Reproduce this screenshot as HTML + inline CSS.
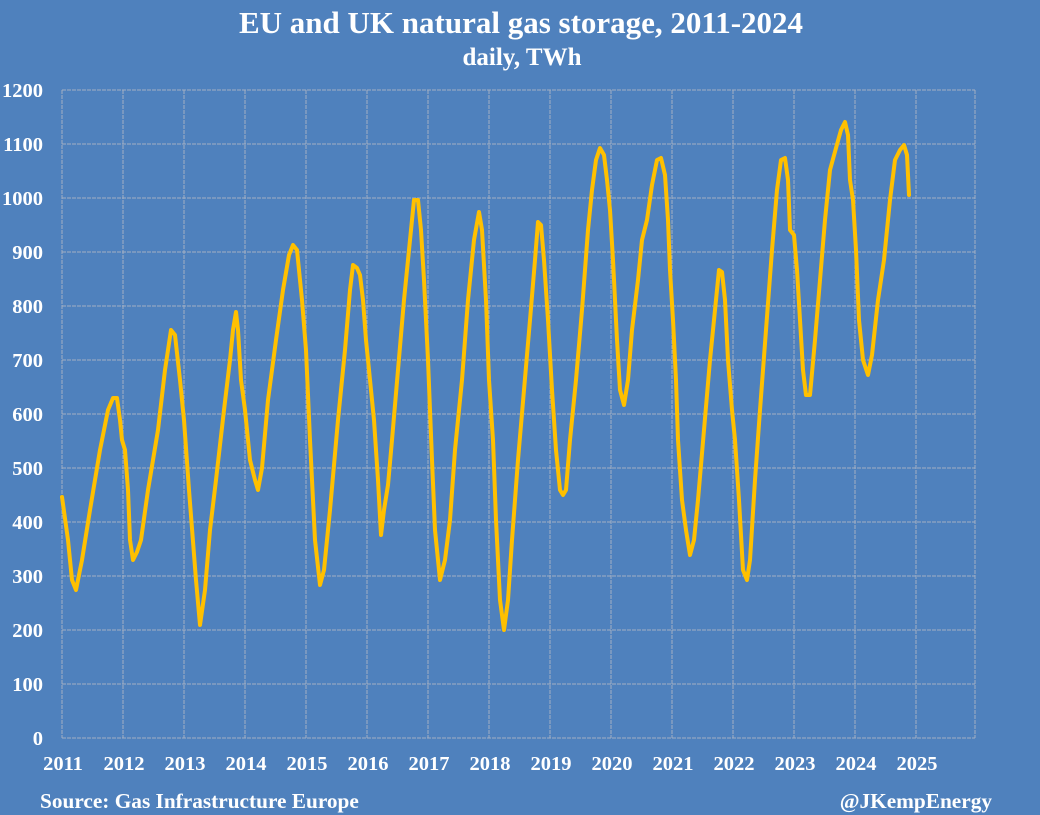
<!DOCTYPE html>
<html><head><meta charset="utf-8"><style>
html,body{margin:0;padding:0;background:#4f81bd;}
svg{display:block;font-family:"Liberation Serif",serif;font-weight:bold;fill:#fff;}
</style></head><body>
<svg width="1040" height="815" xmlns="http://www.w3.org/2000/svg">
<rect width="1040" height="815" fill="#4f81bd"/>
<text x="521" y="33" text-anchor="middle" font-size="31">EU and UK natural gas storage, 2011-2024</text>
<text x="522" y="65" text-anchor="middle" font-size="25">daily, TWh</text>
<g stroke="#a3b0c4" stroke-width="1" stroke-dasharray="4,1" fill="none">
<path d="M62 90H975M62 144H975M62 198H975M62 252H975M62 306H975M62 360H975M62 414H975M62 468H975M62 522H975M62 576H975M62 630H975M62 684H975M62 738H975"/>
<path d="M62 90V738M123 90V738M184 90V738M245 90V738M306 90V738M367 90V738M428 90V738M489 90V738M550 90V738M611 90V738M672 90V738M733 90V738M794 90V738M855 90V738M916 90V738M975 90V738"/>
</g>
<g font-size="20.5" text-anchor="end">
<text x="43" y="97">1200</text><text x="43" y="151">1100</text><text x="43" y="205">1000</text>
<text x="43" y="259">900</text><text x="43" y="313">800</text><text x="43" y="367">700</text>
<text x="43" y="421">600</text><text x="43" y="475">500</text><text x="43" y="529">400</text>
<text x="43" y="583">300</text><text x="43" y="637">200</text><text x="43" y="691">100</text>
<text x="43" y="745">0</text>
</g>
<g font-size="20.5" text-anchor="middle">
<text x="63" y="770">2011</text><text x="124" y="770">2012</text><text x="185" y="770">2013</text>
<text x="246" y="770">2014</text><text x="307" y="770">2015</text><text x="368" y="770">2016</text>
<text x="429" y="770">2017</text><text x="490" y="770">2018</text><text x="551" y="770">2019</text>
<text x="612" y="770">2020</text><text x="673" y="770">2021</text><text x="734" y="770">2022</text>
<text x="795" y="770">2023</text><text x="856" y="770">2024</text><text x="917" y="770">2025</text>
</g>
<text x="40" y="808" font-size="21.3">Source: Gas Infrastructure Europe</text>
<text x="992" y="808" font-size="21.3" text-anchor="end">@JKempEnergy</text>
<polyline fill="none" stroke="#ffc000" stroke-width="4" stroke-linejoin="round" stroke-linecap="round" points="62,497 68,540 72,580 76,590 82,560 90,510 100,450 108,410 113,398 117,398 120,420 122,440 125,450 128,490 130,540 133,560 137,552 141,540 148,490 158,430 165,370 171,330 175,335 180,380 184,420 189,490 196,580 200,625 205,590 210,530 216,480 224,410 230,360 233,330 236,312 238,330 241,380 245,410 250,460 255,480 258,490 262,468 268,400 276,340 283,290 289,255 293,245 297,250 302,300 306,350 310,440 315,540 320,585 324,570 330,510 338,420 345,350 350,290 353,265 357,268 360,275 363,300 366,340 370,380 374,420 378,480 381,535 384,510 388,485 392,440 398,370 404,300 410,240 414,200 418,200 421,230 424,280 428,360 432,460 435,530 440,580 445,560 450,520 455,450 462,380 468,300 474,240 479,212 482,230 486,300 489,380 493,440 496,520 500,600 504,630 508,600 512,540 518,460 524,390 530,320 535,260 538,222 541,225 544,260 548,320 552,390 556,450 560,490 563,495 566,490 570,440 576,380 582,310 588,230 592,190 596,160 600,148 604,155 607,180 610,210 613,260 617,340 620,390 624,405 628,380 632,330 638,280 642,240 647,220 652,185 657,160 661,158 665,175 668,220 670,270 673,320 676,380 678,440 682,500 686,530 690,555 694,540 698,500 704,430 710,360 716,300 719,270 722,272 725,300 728,360 732,410 735,440 739,500 743,570 747,580 750,560 755,480 760,410 766,330 772,250 777,190 781,160 785,158 788,180 790,230 794,235 797,270 800,320 803,370 806,395 810,395 815,340 820,280 825,220 830,170 836,148 841,130 845,122 848,135 850,180 853,200 856,250 859,320 863,360 868,375 872,355 878,300 884,260 890,200 895,160 900,150 904,145 907,155 909,195"/>
</svg>
</body></html>
